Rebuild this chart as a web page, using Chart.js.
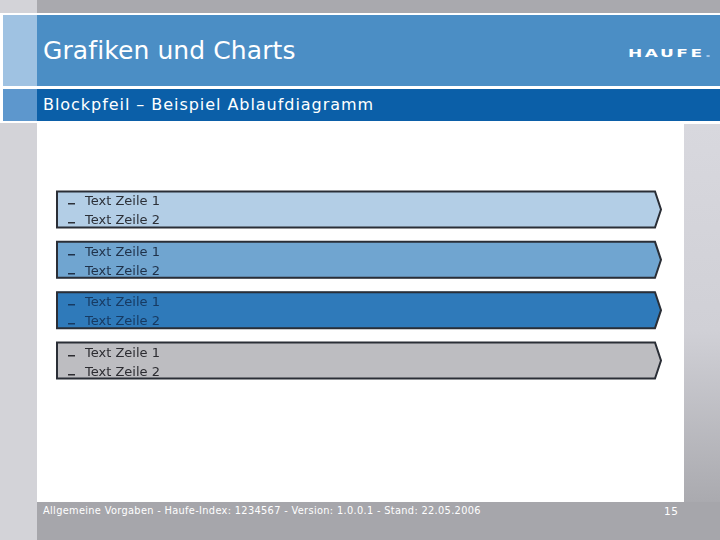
<!DOCTYPE html>
<html>
<head>
<meta charset="utf-8">
<script src="https://cdn.jsdelivr.net/npm/chart.js@4.4.1/dist/chart.umd.min.js"></script>
<style>
  html, body { margin:0; padding:0; width:720px; height:540px; overflow:hidden; background:#fff; }
  .blk { position:absolute; }
  .txt { position:absolute; white-space:nowrap; color:#fff; font-family:"DejaVu Sans", Verdana, sans-serif; }
  #c { position:absolute; left:0; top:0; }
</style>
</head>
<body>
<!-- slide frame -->
<div class="blk" style="left:0;top:0;width:37px;height:540px;background:#d3d3d8"></div>
<div class="blk" style="left:37px;top:0;width:683px;height:13px;background:#a9a9ae"></div>
<div class="blk" style="left:0;top:13px;width:720px;height:110px;background:#fff"></div>
<div class="blk" style="left:3px;top:15px;width:34px;height:71px;background:#9fc2e2"></div>
<div class="blk" style="left:37px;top:15px;width:683px;height:71px;background:#4b8ec5"></div>
<div class="blk" style="left:3px;top:89px;width:34px;height:32px;background:#5d97cd"></div>
<div class="blk" style="left:37px;top:89px;width:683px;height:32px;background:#0b5fa8"></div>
<div class="blk" style="left:684px;top:124px;width:36px;height:378px;background:linear-gradient(#d8d8de,#d0d0d6 55%,#aaaaaf)"></div>
<div class="blk" style="left:37px;top:502px;width:683px;height:38px;background:#a6a6ab"></div>

<div class="txt" id="title" style="left:43px;top:36px;font-size:25px;letter-spacing:0.1px;">Grafiken und Charts</div>
<div class="txt" id="sub" style="left:43px;top:95px;font-size:16px;letter-spacing:0.95px;">Blockpfeil – Beispiel Ablaufdiagramm</div>
<div class="txt" style="left:628px;top:48px;font-size:10px;font-weight:bold;letter-spacing:1.5px;transform:scaleX(1.7);transform-origin:0 0;">HAUFE<span style="color:#9fc6ea">.</span></div>
<div class="txt" id="foot" style="left:43px;top:505px;font-size:9.8px;letter-spacing:0.33px;">Allgemeine Vorgaben - Haufe-Index: 1234567 - Version: 1.0.0.1 - Stand: 22.05.2006</div>
<div class="txt" style="left:664px;top:505px;font-size:10.5px;letter-spacing:0.5px;">15</div>

<canvas id="c" width="720" height="540"></canvas>
<script>
// ---- data ----
const steps = ['Schritt 1', 'Schritt 2', 'Schritt 3', 'Schritt 4'];
const stepStart = [0, 0, 0, 0];
const stepEnd = [100, 100, 100, 100];
const line1 = ['Text Zeile 1', 'Text Zeile 1', 'Text Zeile 1', 'Text Zeile 1'];
const line2 = ['Text Zeile 2', 'Text Zeile 2', 'Text Zeile 2', 'Text Zeile 2'];

// ---- styles ----
const fillColors = ['#b3cee6', '#70a5d0', '#2f7aba', '#bdbdc1'];
const textColors = ['#2c3038', '#1f3149', '#173a62', '#2c2c31'];
const borderColor = '#2a2e36';

const arrowPlugin = {
  id: 'arrows',
  afterDatasetsDraw(chart) {
    const ctx = chart.ctx;
    const meta = chart.getDatasetMeta(0);
    meta.data.forEach((bar, i) => {
      const p = bar.getProps(['x', 'y', 'base', 'height'], true);
      const left = Math.min(p.base, p.x), right = Math.max(p.base, p.x);
      const top = p.y - p.height / 2, bottom = p.y + p.height / 2;
      const tip = 6;
      ctx.save();
      ctx.beginPath();
      ctx.moveTo(left, top);
      ctx.lineTo(right, top);
      ctx.lineTo(right + tip, p.y);
      ctx.lineTo(right, bottom);
      ctx.lineTo(left, bottom);
      ctx.closePath();
      ctx.fillStyle = fillColors[i];
      ctx.fill();
      ctx.lineWidth = 2;
      ctx.lineJoin = 'miter';
      ctx.strokeStyle = borderColor;
      ctx.stroke();
      // text lines with dash bullets
      ctx.fillStyle = textColors[i];
      ctx.font = '13px "DejaVu Sans", Verdana, sans-serif';
      ctx.textBaseline = 'alphabetic';
      ctx.textAlign = 'left';
      const b1 = Math.round(p.y - 4), b2 = Math.round(p.y + 15);
      [[line1[i], b1], [line2[i], b2]].forEach(([t, b]) => {
        ctx.fillRect(left + 11, b - 2, 7, 1.5);
        ctx.fillText(t, left + 28, b);
      });
      ctx.restore();
    });
  }
};

new Chart(document.getElementById('c'), {
  type: 'bar',
  data: {
    labels: steps,
    datasets: [{
      data: steps.map((_, i) => [stepStart[i], stepEnd[i]]),
      backgroundColor: fillColors,
      borderWidth: 0,
      barThickness: 36
    }]
  },
  options: {
    indexAxis: 'y',
    responsive: false,
    animation: false,
    layout: { padding: { left: 57, right: 65, top: 184.3, bottom: 154.3 } },
    scales: {
      x: { min: 0, max: 100, display: false },
      y: { display: false }
    },
    plugins: { legend: { display: false }, tooltip: { enabled: false } }
  },
  plugins: [arrowPlugin]
});
</script>
</body>
</html>
